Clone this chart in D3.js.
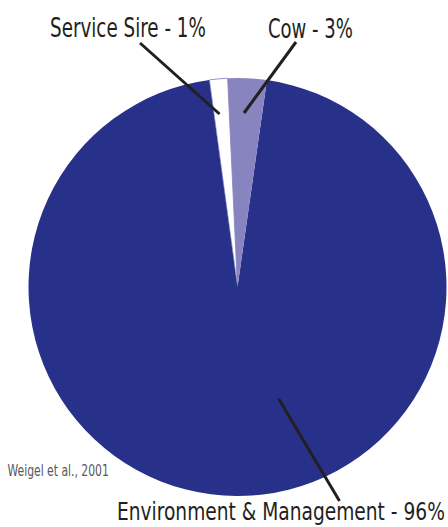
<!DOCTYPE html>
<html>
<head>
<meta charset="utf-8">
<script src="https://cdn.jsdelivr.net/npm/d3@7"></script>
<style>
  html, body { margin: 0; padding: 0; background: #fff; }
  svg { display: block; }
  text { font-family: "Liberation Sans Narrow", "DejaVu Sans Condensed", "Arial Narrow", sans-serif; font-stretch: condensed; }
</style>
</head>
<body>
<svg id="chart" width="448" height="527"></svg>
<script>
// ---- data ----
const categories = ["Environment & Management", "Service Sire", "Cow"];
const values = [95.6, 1.4, 3.0];              // slice sizes (%)
const labelPercents = ["96%", "1%", "3%"];      // printed labels
const colors = ["#28318a", "#ffffff", "#8784bf"];
const source = "Weigel et al., 2001";

// ---- layout ----
const svg = d3.select("#chart");
const cx = 237.5, cy = 287, r = 209;
const startDeg = 8.1; // environment slice starts just right of 12 o'clock

const pie = d3.pie().sort(null).value(d => d.value)
  .startAngle(startDeg * Math.PI / 180)
  .endAngle((startDeg + 360) * Math.PI / 180);
const data = categories.map((c, i) => ({ name: c, value: values[i], color: colors[i], pct: labelPercents[i] }));
const arcs = pie(data);
const arc = d3.arc().innerRadius(0).outerRadius(r);

const g = svg.append("g").attr("transform", `translate(${cx},${cy})`);
g.selectAll("path").data(arcs).join("path")
  .attr("d", arc)
  .attr("fill", d => d.data.color)
  .attr("stroke", d => d.data.name === "Service Sire" ? "#4a4f9a" : "none")
  .attr("stroke-width", d => d.data.name === "Service Sire" ? 0.6 : 0);

// fit a text horizontally to a target width with a scale transform
function fitText(sel, x, y, w) {
  const nat = sel.node().getComputedTextLength();
  const sx = nat > 0 ? w / nat : 1;
  sel.attr("x", 0).attr("y", 0)
     .attr("transform", `translate(${x},${y}) scale(${sx},1)`);
}

// ---- leader lines & labels ----
const labelLayout = {
  "Service Sire": { x: 50, y: 37, w: 156, fs: 26, line: [140, 43, 219.5, 114] },
  "Cow": { x: 268, y: 38, w: 85, fs: 26, line: [296, 42, 244, 113] },
  "Environment & Management": { x: 117, y: 520, w: 328, fs: 25.5, line: [278.5, 398.5, 339.5, 501] }
};

const lab = svg.append("g");
arcs.forEach(a => {
  const L = labelLayout[a.data.name];
  lab.append("line")
    .attr("x1", L.line[0]).attr("y1", L.line[1])
    .attr("x2", L.line[2]).attr("y2", L.line[3])
    .attr("stroke", "#231f20").attr("stroke-width", 3);
  const t = lab.append("text")
    .attr("font-size", L.fs)
    .attr("fill", "#231f20")
    .text(`${a.data.name} - ${a.data.pct}`);
  fitText(t, L.x, L.y, L.w);
});

const src = svg.append("text")
  .attr("font-size", 15.5)
  .attr("fill", "#58595b")
  .text(source);
fitText(src, 7.5, 476, 101.5);
</script>
</body>
</html>
